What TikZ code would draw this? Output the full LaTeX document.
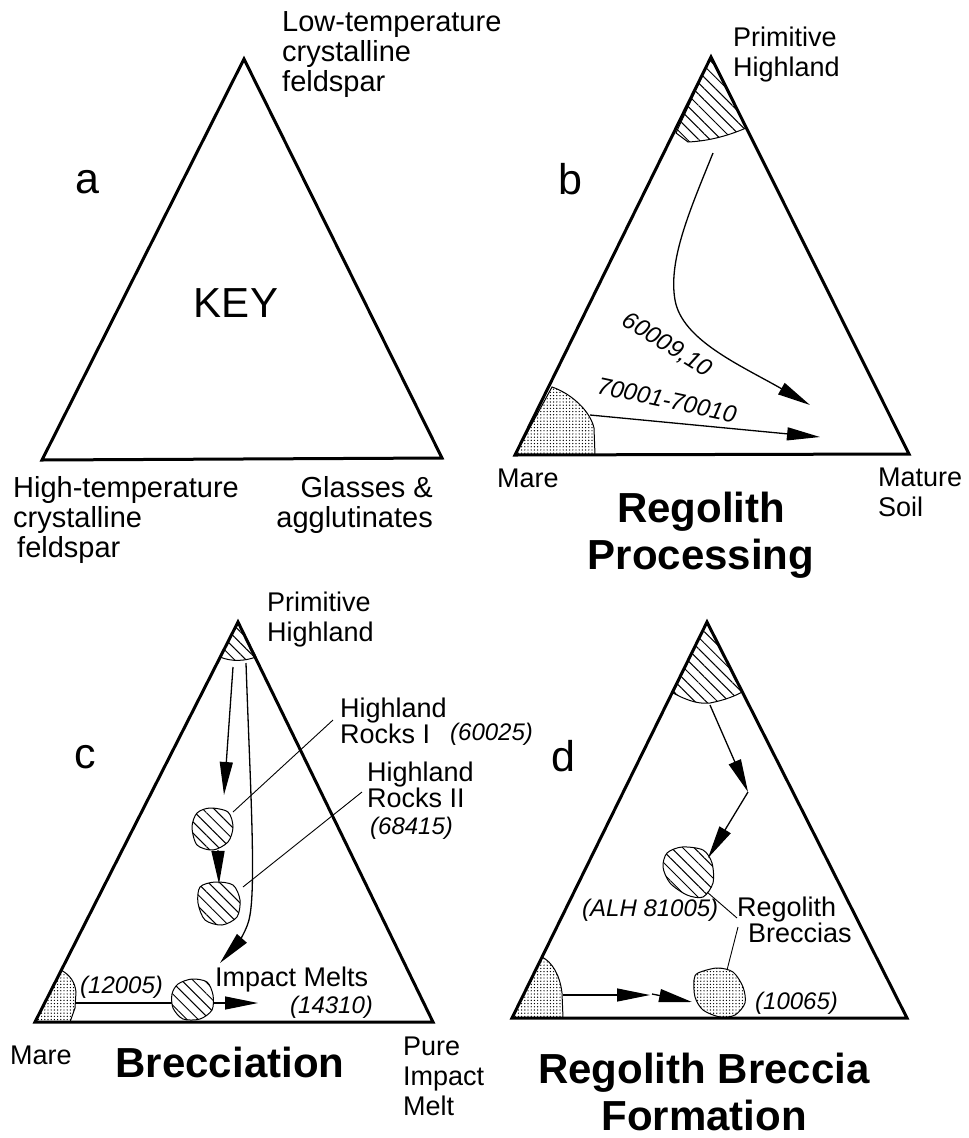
\documentclass[tikz,border=0pt]{standalone}
\usepackage{fontspec}
\setmainfont{Liberation Sans}
\usetikzlibrary{arrows.meta,patterns.meta}
\tikzset{
  tri/.style={line width=3pt, line join=miter},
  flow/.style={line width=1.3pt},
  leaderline/.style={line width=0.9pt},
  headarrow/.style={-{Triangle[length=33pt,width=13pt]}},
  hatchfill/.style={line width=1pt, preaction={fill=white}, pattern={Lines[angle=-45,distance=8pt,line width=1pt]}},
  stipfill/.style={line width=1pt, preaction={fill=white}, pattern={Dots[distance=3.2pt,radius=0.7pt]}},
  lbl/.style={font=\fontsize{27}{30}\selectfont, inner sep=0pt, align=left},
  keylbl/.style={font=\fontsize{29}{30}\selectfont, inner sep=0pt},
  numlbl/.style={font=\fontsize{24}{26}\selectfont\itshape, inner sep=0pt},
  ttl/.style={font=\fontsize{42}{47}\selectfont\bfseries, inner sep=0pt, align=center},
  ltr/.style={font=\fontsize{43}{48}\selectfont, inner sep=0pt},
}
\begin{document}
\begin{tikzpicture}[x=1pt,y=-1pt]
\useasboundingbox (0,0) rectangle (969,1138);

% ---------------- panel a ----------------
\coordinate (aT) at (244,59);
\coordinate (aL) at (42,460);
\coordinate (aR) at (442,458);
\draw[tri] (aT) -- (aL) -- (aR) -- cycle;
\node[ltr] (la) at (87,182) {a};
\node[font=\fontsize{42}{48}\selectfont, inner sep=0pt] (key) at (236,303) {KEY};
\node[keylbl, align=left, anchor=north west] (aTop) at (282,11) {Low-temperature\\crystalline\\feldspar};
\node[keylbl, align=left, anchor=north west] (aLeft) at (13,476) {High-temperature\\crystalline\\\hspace*{4pt}feldspar};
\node[keylbl, align=right, anchor=north east] (aRight) at (433,476) {Glasses \&\\agglutinates};

% ---------------- panel b ----------------
\coordinate (bT) at (711,57);
\coordinate (bL) at (515,455);
\coordinate (bR) at (909,454);
\draw[hatchfill] (bT) -- (676,133) -- (688,142) .. controls (710,141) and (730,135) .. (746,128) -- cycle;
\draw[stipfill] (bL) -- (552,387) .. controls (570,393) and (590,410) .. (594,428) -- (595,455) -- cycle;
\coordinate (b1s) at (713,153);
\coordinate (b1e) at (810,405);
\draw[flow, headarrow] (b1s) .. controls (690,210) and (668,260) .. (675,300) .. controls (682,340) and (740,365) .. (b1e);
\coordinate (b2s) at (590,415);
\coordinate (b2e) at (820,437);
\draw[flow, headarrow] (b2s) -- (b2e);
\draw[tri] (bT) -- (bL) -- (bR) -- cycle;
\node[ltr] (lb) at (570,179) {b};
\node[numlbl, rotate=-31.6] (n60009) at (667,345) {60009,10};
\node[numlbl, rotate=-12] (n70001) at (667,400) {70001-70010};
\node[lbl, anchor=north west] (bTop) at (733,27) {Primitive\\Highland};
\node[lbl, anchor=west] (bMare) at (497,478) {Mare};
\node[lbl, anchor=north west] (bSoil) at (878,468) {Mature\\Soil};
\node[ttl, anchor=north] (bTitle) at (701,492) {Regolith\\Processing};

% ---------------- panel c ----------------
\coordinate (cT) at (238,622);
\coordinate (cL) at (35,1022);
\coordinate (cR) at (433,1022);
\draw[hatchfill] (cT) -- (220,657) .. controls (232,662) and (245,661) .. (256,657) -- cycle;
\draw[stipfill] (cL) -- (61,970) .. controls (70,975) and (75,982) .. (76,992) -- (75,1008) -- (70,1022) -- cycle;
\coordinate (c4s) at (75,1003);
\coordinate (c4e) at (258,1003);
\draw[flow, headarrow] (c4s) -- (c4e);
\draw[hatchfill] plot[smooth cycle, tension=0.5] coordinates {(197,813) (210,808) (228,812) (233,827) (228,842) (213,850) (197,845) (192,827)};
\draw[hatchfill] plot[smooth cycle, tension=0.5] coordinates {(200,887) (215,882) (233,885) (240,900) (237,917) (222,925) (205,920) (198,903)};
\draw[hatchfill] plot[smooth cycle, tension=0.5] coordinates {(178,984) (192,979) (207,982) (213,995) (212,1010) (200,1019) (183,1019) (173,1008) (172,994)};
\coordinate (c1s) at (233,667);
\coordinate (c1e) at (224,795);
\draw[flow, headarrow] (c1s) -- (c1e);
\coordinate (c2s) at (246,663);
\coordinate (c2e) at (220,963);
\draw[flow, headarrow] (c2s) .. controls (250,780) and (256,880) .. (250,915) .. controls (248,930) and (236,945) .. (c2e);
\coordinate (c3s) at (218,850);
\coordinate (c3e) at (219,884);
\draw[flow, headarrow] (c3s) -- (c3e);
\coordinate (r1a) at (233,812);
\coordinate (r1b) at (333,720);
\draw[leaderline] (r1a) -- (r1b);
\coordinate (r2a) at (243,887);
\coordinate (r2b) at (362,792);
\draw[leaderline] (r2a) -- (r2b);
\draw[tri] (cT) -- (cL) -- (cR) -- cycle;
\node[ltr] (lc) at (85,757) {c};
\node[lbl, anchor=north west] (cTop) at (267,592) {Primitive\\Highland};
\node[lbl, anchor=west] (cMare) at (10,1055) {Mare};
\node[lbl, anchor=north west] (cPure) at (403,1037) {Pure\\Impact\\Melt};
\node[ttl] (cTitle) at (230,1062) {Brecciation};
\node[lbl, anchor=north west, font=\fontsize{27}{26}\selectfont] (hr1) at (340,698) {Highland\\Rocks I};
\node[numlbl, anchor=west] (n60025) at (450,734) {(60025)};
\node[lbl, anchor=north west, font=\fontsize{27}{26}\selectfont] (hr2) at (367,762) {Highland\\Rocks II};
\node[numlbl, anchor=west] (n68415) at (370,828) {(68415)};
\node[lbl, anchor=west] (imelt) at (215,980) {Impact Melts};
\node[numlbl, anchor=west] (n14310) at (290,1007) {(14310)};
\node[numlbl, anchor=west] (n12005) at (80,987) {(12005)};

% ---------------- panel d ----------------
\coordinate (dT) at (707,622);
\coordinate (dL) at (512,1018);
\coordinate (dR) at (907,1018);
\draw[hatchfill] (dT) -- (673,693) .. controls (690,702) and (700,704) .. (710,703) .. controls (725,700) and (735,696) .. (742,692) -- cycle;
\draw[stipfill] (dL) -- (542,957) .. controls (552,962) and (560,975) .. (562,993) -- (563,1018) -- cycle;
\draw[hatchfill] plot[smooth cycle, tension=0.5] coordinates {(667,853) (682,847) (703,850) (712,863) (713,883) (703,897) (687,895) (670,883) (663,867)};
\draw[stipfill] plot[smooth cycle, tension=0.5] coordinates {(698,973) (717,968) (733,972) (743,987) (745,1003) (735,1015) (720,1017) (703,1010) (695,997) (694,980)};
\coordinate (d1s) at (710,705);
\coordinate (d1m) at (748,792);
\coordinate (d1e) at (708,858);
\draw[flow, headarrow] (d1s) -- (d1m);
\draw[flow, headarrow] (d1m) -- (d1e);
\coordinate (d2s) at (563,995);
\coordinate (d2m) at (650,995);
\coordinate (d2n) at (652,994);
\coordinate (d2e) at (692,1002);
\draw[flow, headarrow] (d2s) -- (d2m);
\draw[flow, headarrow] (d2n) -- (d2e);
\coordinate (rb1a) at (707,892);
\coordinate (rb1b) at (737,918);
\draw[leaderline] (rb1a) -- (rb1b);
\coordinate (rb2a) at (738,927);
\coordinate (rb2b) at (727,970);
\draw[leaderline] (rb2a) -- (rb2b);
\draw[tri] (dT) -- (dL) -- (dR) -- cycle;
\node[ltr] (ld) at (563,756) {d};
\node[numlbl, anchor=west] (nALH) at (582,910) {(ALH 81005)};
\node[lbl, anchor=north west, font=\fontsize{27}{26}\selectfont] (rbr) at (737,897) {Regolith\\\hspace*{11pt}Breccias};
\node[numlbl, anchor=west] (n10065) at (755,1003) {(10065)};
\node[ttl, anchor=north] (dTitle) at (704,1053) {Regolith Breccia\\Formation};
\end{tikzpicture}
\end{document}
